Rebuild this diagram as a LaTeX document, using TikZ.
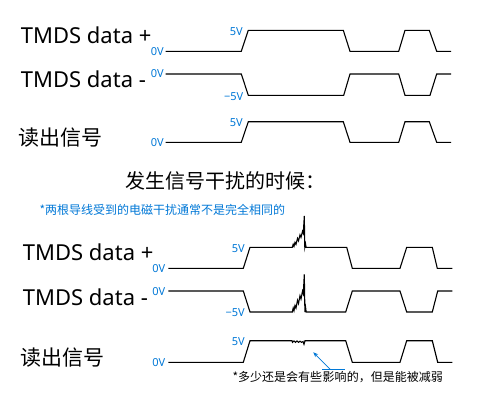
\documentclass[tikz,border=0pt]{standalone}
\usepackage{fontspec}
\setmainfont{Noto Sans}
\newfontfamily\cjk{Noto Sans CJK SC}
\usetikzlibrary{arrows.meta, positioning, calc}
\definecolor{myblue}{RGB}{0,120,215}
\definecolor{mydark}{RGB}{0,0,0}
\tikzset{
  lbl/.style={anchor=base west, inner sep=0pt, text=mydark,
    font=\fontsize{22}{24}\selectfont},
  cjklbl/.style={anchor=base west, inner sep=0pt, text=mydark,
    font=\cjk\fontsize{21}{24}\selectfont},
  volt/.style={anchor=base east, inner sep=0pt, text=myblue,
    font=\fontsize{11}{12}\selectfont},
  note/.style={anchor=base west, inner sep=0pt,
    font=\cjk\fontsize{12}{14}\selectfont},
  sig/.style={line width=1.1pt, color=mydark, line join=miter},
  bluearrow/.style={-{Stealth[length=5pt,width=4pt]}, line width=0.7pt, color=myblue}
}

\begin{document}
\begin{tikzpicture}[x=1pt, y=-1pt]

  % Canvas
  \fill[white] (0,0) rectangle (480,415);
  \useasboundingbox (0,0) rectangle (480,415);

  % Normal case: labels
  \node[lbl] (plusA) at (20.7,43.7) {TMDS data +};
  \node[lbl] (minusA) at (20.7,87.3) {TMDS data -};
  \node[cjklbl] (readA) at (18,145) {读出信号};

  % Normal case: voltage marks
  \node[volt] (plusAhi) at (243,35) {5V};
  \node[volt] (plusAlo) at (164,55.5) {0V};
  \node[volt] (minusAhi) at (164,77.5) {0V};
  \node[volt] (minusAlo) at (243.5,100) {−5V};
  \node[volt] (readAhi) at (243,126) {5V};
  \node[volt] (readAlo) at (164,146.5) {0V};

  % Normal case: waveforms
  \draw[sig] (165.7,51.3) -- (241.3,51.3) -- (248.3,30.3) -- (343.3,30.3) -- (350,51.3)
    -- (398.7,51.3) -- (405,30.3) -- (429.3,30.3) -- (436.7,51.3) -- (451,51.3);
  \draw[sig] (165.7,74) -- (241.3,74) -- (248.3,95.3) -- (343.7,95.3) -- (350,74)
    -- (398.7,74) -- (405,95.3) -- (430,95.3) -- (436.7,74) -- (451,74);
  \draw[sig] (165.7,142.3) -- (241.3,142.3) -- (248.3,121.7) -- (343.3,121.7) -- (350,142.3)
    -- (398.7,142.3) -- (405,121.7) -- (429.3,121.7) -- (436.7,142.3) -- (451,142.3);

  % Heading and remark
  \node[cjklbl, font=\cjk\fontsize{20}{24}\selectfont] (title) at (125,188) {发生信号干扰的时候：};
  \node[note, text=myblue] (remark) at (39.3,214.2) {*两根导线受到的电磁干扰通常不是完全相同的};

  % Disturbed case: labels
  \node[lbl] (plusB) at (22.7,260) {TMDS data +};
  \node[lbl] (minusB) at (22.7,305) {TMDS data -};
  \node[cjklbl] (readB) at (20.7,365) {读出信号};

  % Disturbed case: voltage marks
  \node[volt] (plusBhi) at (245,252.3) {5V};
  \node[volt] (plusBlo) at (165.5,272.5) {0V};
  \node[volt] (minusBhi) at (165.5,295.5) {0V};
  \node[volt] (minusBlo) at (245,316.5) {−5V};
  \node[volt] (readBhi) at (245,345.5) {5V};
  \node[volt] (readBlo) at (165.5,366.5) {0V};

  % Disturbed case: waveforms
  \draw[sig] (168.3,268.3) -- (243.3,268.3) -- (250,247.3) -- (292.3,247.3)
    -- ++(0.9,-3) -- ++(0.8,2) -- ++(1,-4) -- ++(1,2) -- ++(1.5,-6) -- ++(1,2.5)
    -- ++(1.5,-6) -- ++(1,2.5) -- ++(1.5,-6) -- ++(0.8,2) -- (304.3,216) -- (304.8,247.3)
    -- ++(0.7,-3.5) -- ++(0.6,3.5)
    -- (346.7,247.3) -- (352.3,268.3) -- (400,268.3) -- (406.7,247.3) -- (432.3,247.3)
    -- (437.3,268.3) -- (452.3,268.3);
  \draw[sig] (168.3,291) -- (243.3,291) -- (250,312) -- (292.3,312)
    -- ++(0.9,-4) -- ++(0.8,2.7) -- ++(1,-5.2) -- ++(1,2.6) -- ++(1.5,-7.8) -- ++(1,3.2)
    -- ++(1.5,-7.8) -- ++(1,3.3) -- ++(1.5,-7.8) -- ++(0.8,2.6) -- (304.3,274.3) -- (304.9,312)
    -- ++(0.7,-4.5) -- ++(0.6,4.5)
    -- (345.7,312) -- (352.3,291) -- (400,291) -- (406.7,312) -- (432.3,312)
    -- (437.7,291) -- (452.3,291);
  \draw[sig] (168.3,362.3) -- (243.3,362.3) -- (250,340.7) -- (292,340.7)
    -- (292.5,342.3) -- (294,341) -- (295.5,342.3) -- (297,341) -- (298.5,342.3)
    -- (300,341.2) -- (301.5,342.3) -- (303,341.5) -- (304,344.3) -- (305,340.7)
    -- (345.7,340.7) -- (352.3,362.3) -- (400,362.3) -- (406.7,340.7) -- (432.3,340.7)
    -- (437.7,362.3) -- (452.3,362.3);

  % Remark on the output
  \node[note] (effA) at (232.3,381.5) {*多少还是会有些};
  \node[note, anchor=base west] (effB) at (effA.base east) {影响};
  \node[note, anchor=base west] (effC) at (effB.base east) {的，但是能被减弱};
  \coordinate (ulL) at ($(effB.north west)+(0,-2)$);
  \coordinate (ulR) at ($(effB.north east)+(-2,-2)$);
  \coordinate (ulMid) at ($(ulL)!0.35!(ulR)$);
  \coordinate (hit) at (313.3,352.3);
  \draw[myblue, line width=0.8pt] (ulL) -- (ulR);
  \draw[bluearrow] (ulMid) -- (hit);

\end{tikzpicture}
\end{document}
